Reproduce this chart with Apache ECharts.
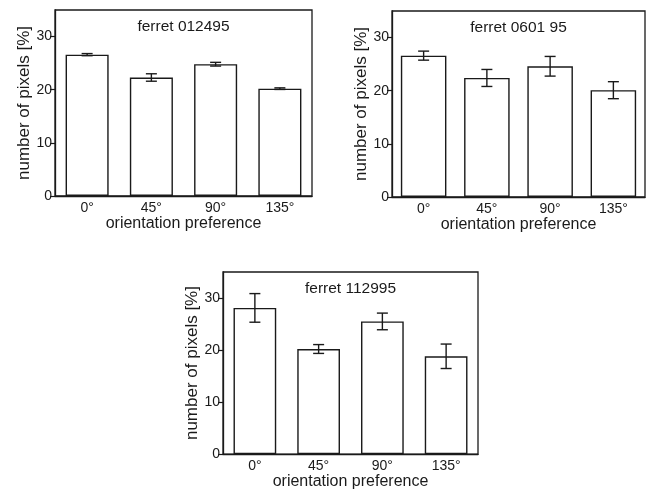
<!DOCTYPE html>
<html>
<head>
<meta charset="utf-8">
<script src="https://cdn.jsdelivr.net/npm/echarts@6/dist/echarts.min.js"></script>
<style>
  html, body { margin: 0; padding: 0; background: #fff; }
  #chart { width: 648px; height: 491px; }
</style>
</head>
<body>
<div id="chart"></div>
<script>
  // orientation categories
  const categories = ['0°', '45°', '90°', '135°'];
  const yTicks = [0, 10, 20, 30];

  // ferret 012495
  const meanA = [26.6, 22.3, 24.8, 20.2];
  const errA = [0.2, 0.7, 0.35, 0.15];
  // ferret 0601 95
  const meanB = [26.6, 22.4, 24.6, 20.1];
  const errB = [0.85, 1.6, 1.85, 1.6];
  // ferret 112995
  const meanC = [28.1, 20.2, 25.5, 18.8];
  const errC = [2.75, 0.85, 1.6, 2.35];

  const panels = [
    {title: 'ferret 012495', mean: meanA, err: errA, grid: {left: 55, top: 10, width: 257, height: 186}, barWidth: '67%'},
    {title: 'ferret 0601 95', mean: meanB, err: errB, grid: {left: 392, top: 11, width: 253, height: 186}, barWidth: '72%'},
    {title: 'ferret 112995', mean: meanC, err: errC, grid: {left: 223, top: 272, width: 255, height: 185}, barWidth: '67%'}
  ];

  const font = 'Liberation Sans, Arial, sans-serif';
  const ink = '#1a1a1a';

  const chart = echarts.init(document.getElementById('chart'));

  const errorBar = (params, api) => {
    const x = api.value(0);
    const lo = api.coord([x, api.value(1)]);
    const hi = api.coord([x, api.value(2)]);
    const cap = 5.5;
    const style = {stroke: ink, lineWidth: 1.4};
    return {
      type: 'group',
      children: [
        {type: 'line', shape: {x1: hi[0], y1: hi[1], x2: lo[0], y2: lo[1]}, style},
        {type: 'line', shape: {x1: hi[0] - cap, y1: hi[1], x2: hi[0] + cap, y2: hi[1]}, style},
        {type: 'line', shape: {x1: lo[0] - cap, y1: lo[1], x2: lo[0] + cap, y2: lo[1]}, style}
      ]
    };
  };

  const option = {
    backgroundColor: '#fff',
    animation: false,
    textStyle: {fontFamily: font, color: ink},
    title: panels.map(p => ({
      text: p.title,
      left: p.grid.left + p.grid.width / 2,
      top: p.grid.top + 9,
      padding: 0,
      textAlign: 'center',
      textStyle: {fontFamily: font, fontSize: 15.5, fontWeight: 'normal', color: ink}
    })),
    grid: panels.map(p => Object.assign({
      show: true, borderColor: ink, borderWidth: 1.3, backgroundColor: 'transparent'
    }, p.grid)),
    xAxis: panels.map((p, i) => ({
      type: 'category',
      gridIndex: i,
      data: categories,
      name: 'orientation preference',
      nameLocation: 'middle',
      nameGap: 19,
      nameTextStyle: {fontFamily: font, fontSize: 16, color: ink},
      axisLine: {lineStyle: {color: ink, width: 1.3}},
      axisTick: {show: false},
      axisLabel: {fontFamily: font, fontSize: 14, color: ink, margin: 5}
    })),
    yAxis: panels.map((p, i) => ({
      type: 'value',
      gridIndex: i,
      min: 0,
      max: 35,
      interval: 10,
      name: 'number of pixels [%]',
      nameLocation: 'middle',
      nameGap: 20,
      nameTextStyle: {fontFamily: font, fontSize: 17, color: ink},
      axisLine: {show: true, lineStyle: {color: ink, width: 1.3}},
      axisTick: {show: true, length: 5, customValues: yTicks, lineStyle: {color: ink, width: 1.2}},
      splitLine: {show: false},
      axisLabel: {
        fontFamily: font, fontSize: 14, color: ink, margin: 3,
        customValues: yTicks
      }
    })),
    series: panels.flatMap((p, i) => [
      {
        type: 'bar',
        xAxisIndex: i,
        yAxisIndex: i,
        data: p.mean,
        barWidth: p.barWidth,
        itemStyle: {color: '#fff', borderColor: ink, borderWidth: 1.4}
      },
      {
        type: 'custom',
        xAxisIndex: i,
        yAxisIndex: i,
        renderItem: errorBar,
        encode: {x: 0, y: [1, 2]},
        data: p.mean.map((m, k) => [k, m - p.err[k], m + p.err[k]]),
        z: 5
      }
    ])
  };

  chart.setOption(option);
</script>
</body>
</html>
